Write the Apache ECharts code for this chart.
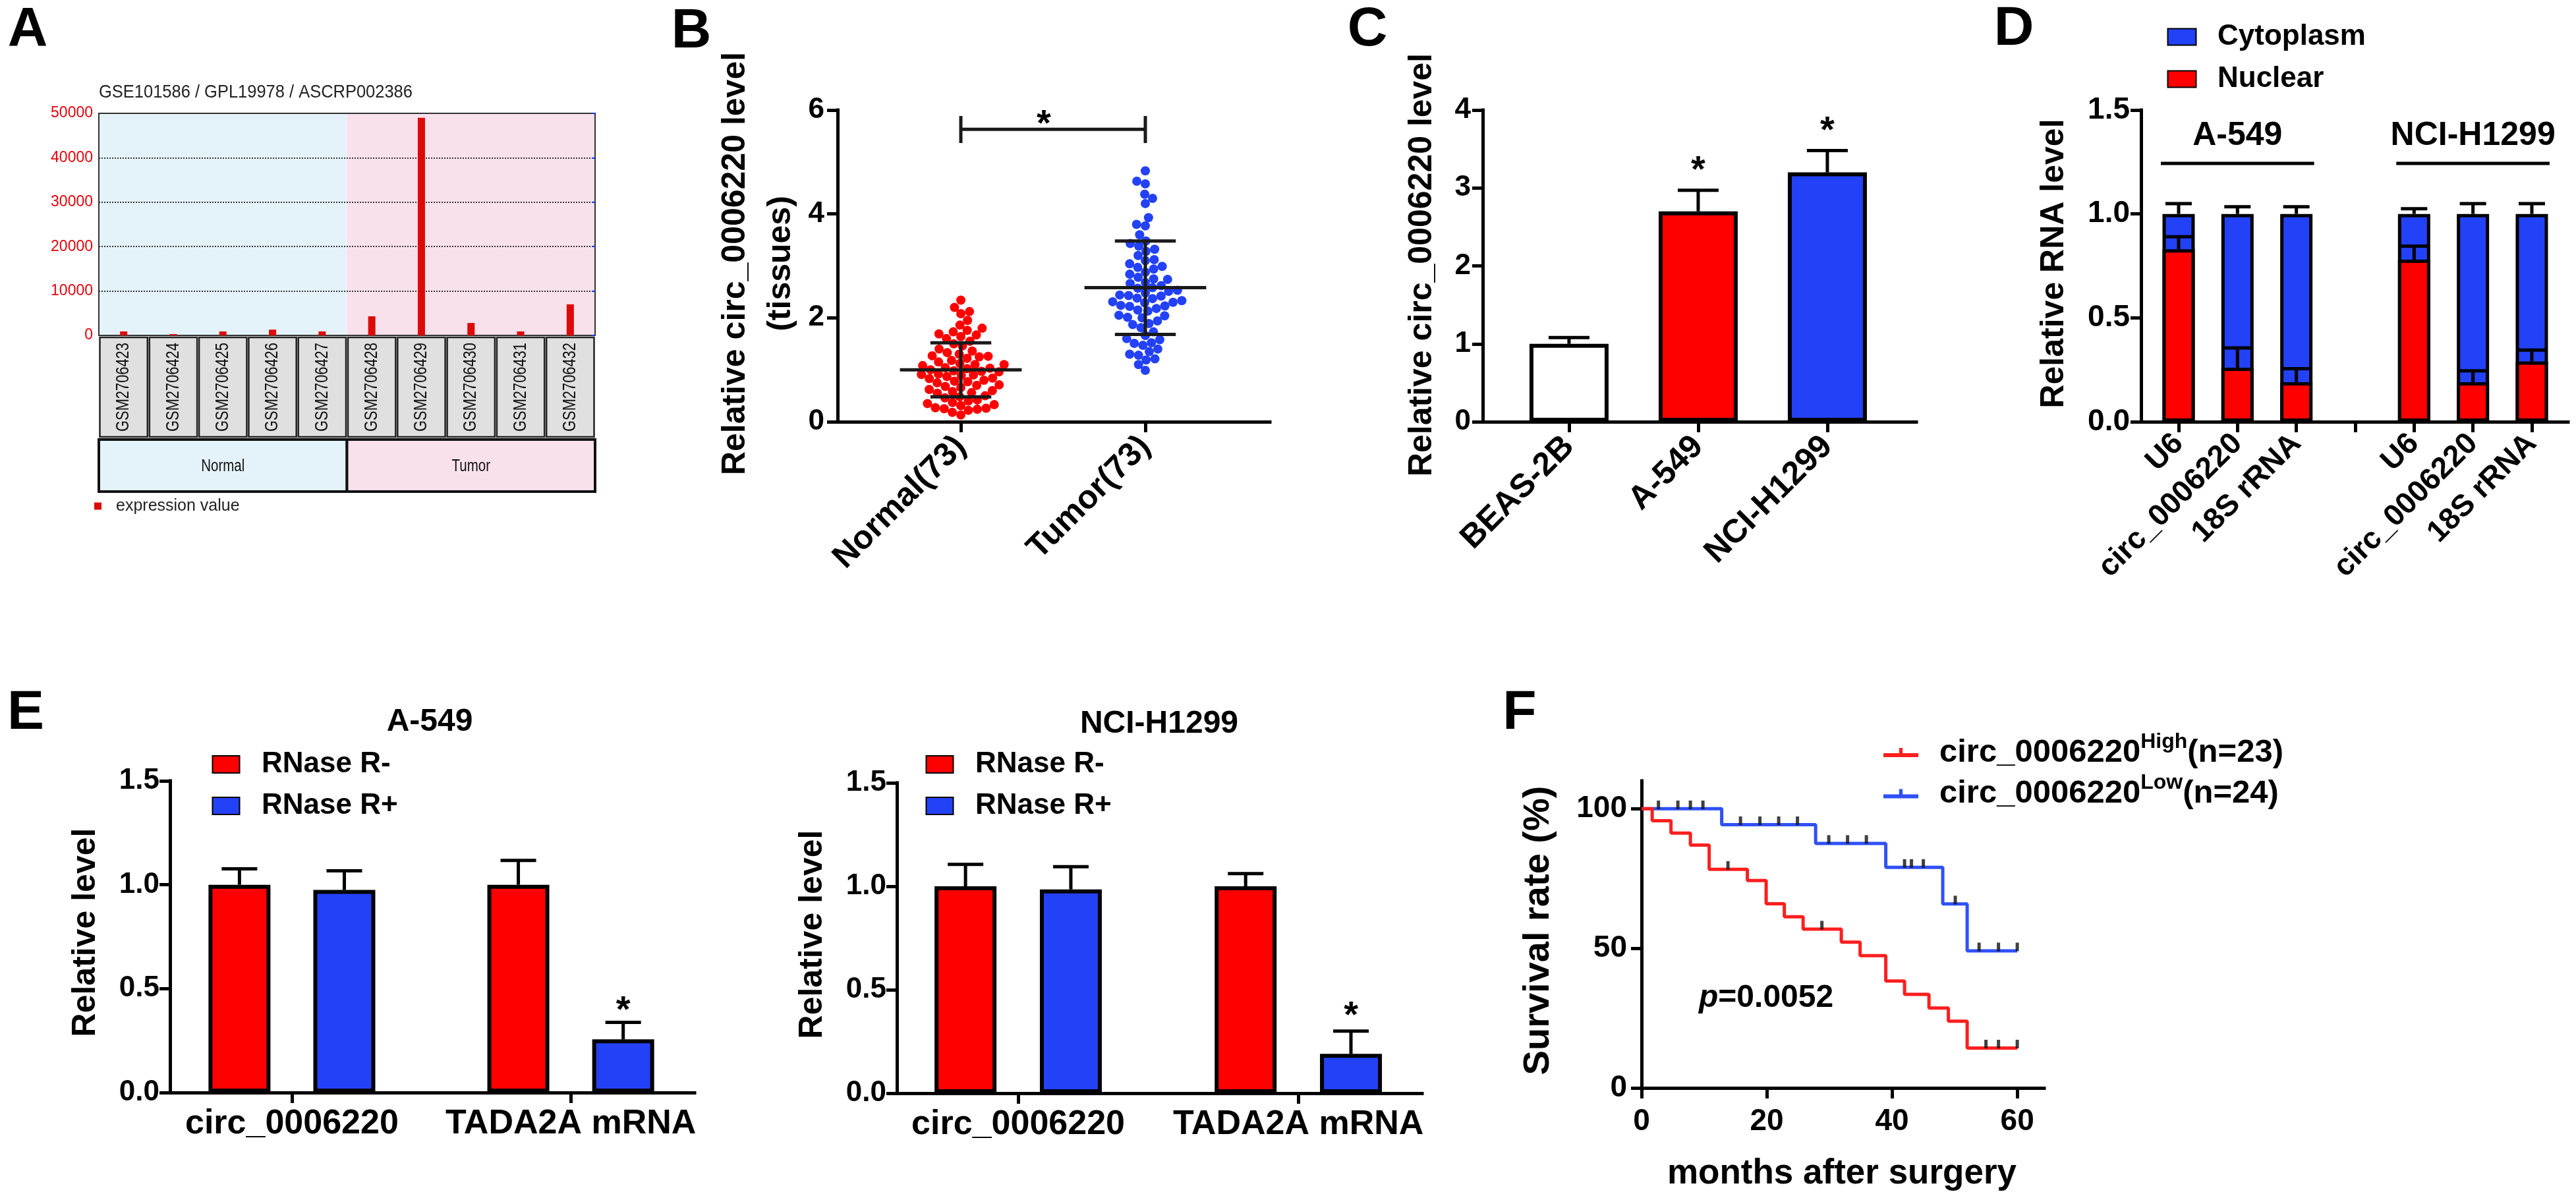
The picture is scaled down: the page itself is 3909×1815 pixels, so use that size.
<!DOCTYPE html>
<html>
<head>
<meta charset="utf-8">
<title>circ_0006220 figure</title>
<script src="https://cdn.jsdelivr.net/npm/echarts@6.0.0/dist/echarts.min.js"></script>
<style>
html,body{margin:0;padding:0;background:#fff;}
#chart{width:3909px;height:1815px;}
</style>
</head>
<body>
<div id="chart"></div>
<script>
// ================= DATA =================
// Panel A
const aTitle = 'GSE101586 / GPL19978 / ASCRP002386';
const gsmIds = ['GSM2706423','GSM2706424','GSM2706425','GSM2706426','GSM2706427','GSM2706428','GSM2706429','GSM2706430','GSM2706431','GSM2706432'];
const gsmExpression = [900, 300, 900, 1300, 900, 4300, 49000, 2800, 900, 7000];
const gsmGroups = ['Normal', 'Tumor'];
const gsmGroupSizes = [5, 5];
const aLegend = 'expression value';

// Panel B
const bGroups = ['Normal(73)', 'Tumor(73)'];
const bNormal = [2.34,2.20,2.12,2.08,1.95,1.86,1.80,1.76,1.73,1.69,
  1.67,1.64,1.60,1.55,1.50,1.46,1.40,1.36,1.33,1.30,
  1.27,1.26,1.25,1.22,1.18,1.15,1.12,1.10,1.10,1.08,
  1.04,1.03,1.02,1.00,0.98,0.97,0.96,0.92,0.91,0.90,
  0.89,0.87,0.84,0.83,0.80,0.78,0.77,0.75,0.71,0.70,
  0.68,0.66,0.62,0.60,0.58,0.56,0.55,0.50,0.48,0.46,
  0.42,0.40,0.37,0.35,0.33,0.31,0.27,0.26,0.25,0.24,
  0.22,0.18,0.13];
const bTumor = [4.83,4.63,4.58,4.38,4.30,4.20,3.93,3.80,3.77,3.60,
  3.48,3.43,3.38,3.32,3.28,3.20,3.12,3.10,3.04,2.99,
  2.97,2.94,2.88,2.84,2.78,2.75,2.74,2.66,2.62,2.58,
  2.57,2.53,2.51,2.48,2.44,2.43,2.42,2.38,2.37,2.33,
  2.31,2.30,2.29,2.24,2.23,2.22,2.18,2.15,2.13,2.05,
  2.04,2.01,2.00,1.94,1.89,1.87,1.81,1.73,1.66,1.60,
  1.58,1.52,1.51,1.47,1.40,1.30,1.28,1.21,1.19,1.10,
  0.99,1.35,2.68];
const bMean = [1.00, 2.58];
const bSD = [0.52, 0.90];
const bSig = '*';

// Panel C
const cCells = ['BEAS-2B', 'A-549', 'NCI-H1299'];
const cLevel = [1.00, 2.70, 3.20];
const cErr = [0.08, 0.27, 0.28];
const cSig = ['', '*', '*'];

// Panel D
const dLegend = ['Cytoplasm', 'Nuclear'];
const dGroups = ['A-549', 'NCI-H1299'];
const dGroupSpans = [[0, 2], [4, 6]];
const dCats = ['U6', 'circ_0006220', '18S rRNA', '', 'U6', 'circ_0006220', '18S rRNA'];
const dNuclear = [0.83, 0.26, 0.19, null, 0.78, 0.19, 0.29];
const dCytoplasm = [0.17, 0.74, 0.81, null, 0.22, 0.81, 0.71];
const dNuclearErr = [0.06, 0.095, 0.065, null, 0.065, 0.055, 0.055];
const dTotalErr = [0.05, 0.035, 0.035, null, 0.025, 0.05, 0.05];

// Panel E
const eLegend = ['RNase R-', 'RNase R+'];
const eCats = ['circ_0006220', 'TADA2A mRNA'];
const eA549Minus = [1.00, 1.00], eA549MinusErr = [0.077, 0.117];
const eA549Plus = [0.975, 0.256], eA549PlusErr = [0.092, 0.082];
const eA549Sig = ['', '*'];
const eH1299Minus = [1.00, 1.00], eH1299MinusErr = [0.106, 0.061];
const eH1299Plus = [0.985, 0.19], eH1299PlusErr = [0.11, 0.11];
const eH1299Sig = ['', '*'];

// Panel F
const fMarker = 'circ_0006220';
const fLabels = ['High', 'Low'];
const fN = [23, 24];
const fHighSteps = [[0,100],[1.7,95.7],[4.7,91.3],[7.8,87.0],[10.8,78.3],[16.9,74.3],[19.9,66.0],[22.8,61.3],[25.8,56.9],[31.9,52.2],[34.9,47.4],[39.0,38.3],[42.0,33.5],[45.9,28.6],[49.0,23.9],[52.0,14.3],[60.0,14.3]];
const fHighCensor = [13.8, 28.8, 55.0, 57.0, 60.0];
const fLowSteps = [[0,100],[12.8,94.3],[27.8,87.6],[39.0,79.0],[48.1,65.9],[52.0,49.1],[60.0,49.1]];
const fLowCensor = [2.7,5.8,7.8,9.8,15.8,18.9,21.9,24.9,29.9,32.9,35.9,42.0,43.1,45.0,50.1,53.9,57.0,60.0];
const fXTicks = [0, 20, 40, 60];
const fYTicks = [0, 50, 100];
const fP = '=0.0052';

// ================= STYLE =================
const BOLD = "'Liberation Sans', Arial, Helvetica, sans-serif";
const RED = '#ff0000', BLUE = '#2341f6';
const F_RED = '#ff1e1e', F_BLUE = '#2f50f7';

// ================= HELPERS =================
function T(text, x, y, size, o) {
  o = o || {};
  const st = {text, fontSize: size, fontWeight: o.weight || 'bold', fontFamily: o.family || BOLD,
    fontStyle: o.fstyle || 'normal', fill: o.color || '#000',
    align: o.align || 'center', textAlign: o.align || 'center',
    verticalAlign: 'middle', textVerticalAlign: 'middle'};
  if (o.rich) st.rich = o.rich;
  return {type: 'text', x, y, rotation: o.rot || 0, scaleX: o.sx || 1, z: 50, silent: true, style: st};
}
function catAxis(gi, names, min, max, fs, rotate, margin, lw) {
  const idx = names.map((_, i) => i);
  return {
    type: 'value', gridIndex: gi, min, max,
    splitLine: {show: false},
    axisLine: {show: true, onZero: false, lineStyle: {color: '#000', width: lw, cap: 'square'}},
    axisTick: {show: true, customValues: idx, length: 16, lineStyle: {color: '#000', width: lw}},
    axisLabel: {show: true, customValues: idx, formatter: v => names[Math.round(v)] || '', rotate, margin,
      fontSize: fs, fontWeight: 'bold', fontFamily: BOLD, color: '#000'}
  };
}
function valAxis(gi, min, max, interval, fs, margin, lw, fmt) {
  const ax = {
    type: 'value', gridIndex: gi, min, max, interval,
    splitLine: {show: false},
    axisLine: {show: true, onZero: false, lineStyle: {color: '#000', width: lw, cap: 'square'}},
    axisTick: {show: true, length: 16, lineStyle: {color: '#000', width: lw}},
    axisLabel: {margin, fontSize: fs, fontWeight: 'bold', fontFamily: BOLD, color: '#000'}
  };
  if (fmt) ax.axisLabel.formatter = fmt;
  return ax;
}
function beeswarm(values, pxPerY, diam) {
  const order = values.map((v, i) => i).sort((a, b) => values[a] - values[b]);
  const placed = [], off = new Array(values.length);
  let flip = false;
  for (const i of order) {
    const y = values[i] * pxPerY;
    const near = placed.filter(p => Math.abs(p.y - y) < diam);
    const cands = [0];
    near.forEach(p => { const dx = Math.sqrt(diam * diam - (p.y - y) ** 2); cands.push(p.x + dx + 0.01, p.x - dx - 0.01); });
    cands.sort((a, b) => (Math.abs(a) - Math.abs(b)) || (flip ? a - b : b - a));
    let x = 0;
    for (const c of cands) {
      if (near.every(p => (p.x - c) ** 2 + (p.y - y) ** 2 >= diam * diam - 0.5)) { x = c; break; }
    }
    placed.push({x, y}); off[i] = x; flip = !flip;
  }
  return off;
}
function errSeries(xi, items, sigs, capPx, lw, starSize, starGap) {
  return {
    type: 'custom', xAxisIndex: xi, yAxisIndex: xi, z: 6, silent: true, clip: false,
    data: items,
    renderItem(params, api) {
      const x = api.value(0), top = api.value(1), err = api.value(2);
      const p0 = api.coord([x, top]), p1 = api.coord([x, top + err]);
      const ch = [
        {type: 'line', shape: {x1: p0[0], y1: p0[1], x2: p1[0], y2: p1[1]}, style: {stroke: '#000', lineWidth: lw}},
        {type: 'line', shape: {x1: p1[0] - capPx / 2, y1: p1[1], x2: p1[0] + capPx / 2, y2: p1[1]}, style: {stroke: '#000', lineWidth: lw}}
      ];
      const s = sigs ? sigs[params.dataIndex] : '';
      if (s) ch.push({type: 'text', style: {text: s, x: p1[0], y: p1[1] - starGap, fontSize: starSize, fontWeight: 'bold',
        fontFamily: BOLD, fill: '#000', align: 'center', textAlign: 'center', verticalAlign: 'middle', textVerticalAlign: 'middle'}});
      return {type: 'group', children: ch};
    }
  };
}
function survAt(steps, t) { let s = steps[0][1]; steps.forEach(([tt, v]) => { if (tt <= t) s = v; }); return s; }

// ================= SERIES =================
const series = [];

// ---- A ----
const gsmStarts = gsmGroupSizes.map((s, k) => gsmGroupSizes.slice(0, k).reduce((a, b) => a + b, 0));
const aBg = ['#e4f3f9', '#f9e1eb'];
series.push({
  type: 'custom', xAxisIndex: 0, yAxisIndex: 0, z: -1, silent: true,
  data: gsmGroups.map((g, k) => [k, 0]),
  renderItem(params, api) {
    const k = params.dataIndex;
    const l = api.coord([gsmStarts[k] - 0.5, 50000]), r = api.coord([gsmStarts[k] + gsmGroupSizes[k] - 0.5, 0]);
    return {type: 'rect', shape: {x: l[0], y: l[1], width: r[0] - l[0], height: r[1] - l[1]}, style: {fill: aBg[k]}};
  }
});
series.push({
  type: 'bar', name: aLegend, xAxisIndex: 0, yAxisIndex: 0, barWidth: 11,
  data: gsmExpression.map((v, i) => [i, v]), itemStyle: {color: '#dd0a0a'}
});
series.push({
  type: 'custom', xAxisIndex: 0, yAxisIndex: 0, z: 3, silent: true, clip: false,
  data: gsmIds.map((id, i) => [i, 0]),
  renderItem(params, api) {
    const i = params.dataIndex;
    const l = api.coord([i - 0.5, 0]), r = api.coord([i + 0.5, 0]);
    const y0 = l[1] + 3, h = 151;
    return {type: 'group', children: [
      {type: 'rect', shape: {x: l[0] + 1.5, y: y0, width: r[0] - l[0] - 3, height: h}, style: {fill: '#dfe0df', stroke: '#222', lineWidth: 2.5}},
      {type: 'text', x: (l[0] + r[0]) / 2, y: y0 + h / 2, rotation: Math.PI / 2, scaleX: 0.78,
        style: {text: gsmIds[i], fontSize: 28, fontFamily: BOLD, fill: '#111', align: 'center', textAlign: 'center', verticalAlign: 'middle', textVerticalAlign: 'middle'}}
    ]};
  }
});
series.push({
  type: 'custom', xAxisIndex: 0, yAxisIndex: 0, z: 3, silent: true, clip: false,
  data: gsmGroups.map((g, k) => [k, 0]),
  renderItem(params, api) {
    const k = params.dataIndex;
    const l = api.coord([gsmStarts[k] - 0.5, 0]), r = api.coord([gsmStarts[k] + gsmGroupSizes[k] - 0.5, 0]);
    const y0 = l[1] + 158, h = 79;
    return {type: 'group', children: [
      {type: 'rect', shape: {x: l[0], y: y0, width: r[0] - l[0], height: h}, style: {fill: aBg[k], stroke: '#111', lineWidth: 4}},
      {type: 'text', x: (l[0] + r[0]) / 2, y: y0 + h / 2 + 2, scaleX: 0.82,
        style: {text: gsmGroups[k], fontSize: 25, fontFamily: BOLD, fill: '#111',
        align: 'center', textAlign: 'center', verticalAlign: 'middle', textVerticalAlign: 'middle'}}
    ]};
  }
});

// ---- B ----
const bPxY = 473 / 6, bPxX = 280;
const bOffN = beeswarm(bNormal, bPxY, 13.5);
const bOffT = beeswarm(bTumor, bPxY, 13.5);
series.push({type: 'scatter', name: bGroups[0], xAxisIndex: 1, yAxisIndex: 1, symbolSize: 14, z: 3,
  data: bNormal.map((v, i) => [0 + bOffN[i] / bPxX, v]), itemStyle: {color: RED, opacity: 1}});
series.push({type: 'scatter', name: bGroups[1], xAxisIndex: 1, yAxisIndex: 1, symbolSize: 14, z: 3,
  data: bTumor.map((v, i) => [1 + bOffT[i] / bPxX, v]), itemStyle: {color: BLUE, opacity: 1}});
series.push({
  type: 'custom', xAxisIndex: 1, yAxisIndex: 1, z: 10, silent: true,
  data: bMean.map((m, i) => [i, m, bSD[i]]),
  renderItem(params, api) {
    const i = api.value(0), m = api.value(1), s = api.value(2);
    const a = api.coord([i - 0.33, m]), b = api.coord([i + 0.33, m]);
    const hi1 = api.coord([i - 0.165, m + s]), hi2 = api.coord([i + 0.165, m + s]);
    const lo1 = api.coord([i - 0.165, m - s]), lo2 = api.coord([i + 0.165, m - s]);
    const c = api.coord([i, m]);
    const st = {stroke: '#1a1a1a', lineWidth: 5};
    return {type: 'group', children: [
      {type: 'line', shape: {x1: a[0], y1: a[1], x2: b[0], y2: b[1]}, style: st},
      {type: 'line', shape: {x1: hi1[0], y1: hi1[1], x2: hi2[0], y2: hi2[1]}, style: st},
      {type: 'line', shape: {x1: lo1[0], y1: lo1[1], x2: lo2[0], y2: lo2[1]}, style: st},
      {type: 'line', shape: {x1: c[0], y1: hi1[1], x2: c[0], y2: lo1[1]}, style: st}
    ]};
  }
});
series.push({
  type: 'custom', xAxisIndex: 1, yAxisIndex: 1, z: 10, silent: true, clip: false,
  data: [[0, 1]],
  renderItem(params, api) {
    const x0 = api.value(0), x1 = api.value(1);
    const a = api.coord([x0, 5.63]), b = api.coord([x1, 5.63]);
    const t0 = api.coord([x0, 5.885])[1], t1 = api.coord([x0, 5.365])[1];
    const st = {stroke: '#1a1a1a', lineWidth: 5};
    return {type: 'group', children: [
      {type: 'line', shape: {x1: a[0], y1: a[1], x2: b[0], y2: b[1]}, style: st},
      {type: 'line', shape: {x1: a[0], y1: t0, x2: a[0], y2: t1}, style: st},
      {type: 'line', shape: {x1: b[0], y1: t0, x2: b[0], y2: t1}, style: st},
      {type: 'text', style: {text: bSig, x: (a[0] + b[0]) / 2 - 14, y: a[1] - 7, fontSize: 56, fontWeight: 'bold', fontFamily: BOLD, fill: '#000',
        align: 'center', textAlign: 'center', verticalAlign: 'middle', textVerticalAlign: 'middle'}}
    ]};
  }
});

// ---- C ----
const cColors = ['#ffffff', RED, BLUE];
series.push({
  type: 'bar', xAxisIndex: 2, yAxisIndex: 2, barWidth: 120, z: 3,
  data: cLevel.map((v, i) => ({value: [i, v], itemStyle: {color: cColors[i], borderColor: '#000', borderWidth: 6}}))
});
series.push(errSeries(2, cLevel.map((v, i) => [i, v, cErr[i]]), cSig, 62, 5, 56, 29));

// ---- D ---- (cytoplasm stacked on nuclear: top of blue = nuclear + cytoplasm)
const dIdx = dCats.map((c, i) => i).filter(i => dNuclear[i] != null);
series.push({type: 'bar', name: 'Cytoplasm', xAxisIndex: 3, yAxisIndex: 3, barWidth: 49, barGap: '-100%', z: 3,
  data: dIdx.map(i => [i, +(dNuclear[i] + dCytoplasm[i]).toFixed(3)]), itemStyle: {color: BLUE, borderColor: '#000', borderWidth: 5}});
series.push({type: 'bar', name: 'Nuclear', xAxisIndex: 3, yAxisIndex: 3, barWidth: 49, barGap: '-100%', z: 4,
  data: dIdx.map(i => [i, dNuclear[i]]), itemStyle: {color: RED, borderColor: '#000', borderWidth: 5}});
series.push(errSeries(3, dIdx.map(i => [i, dNuclear[i], dNuclearErr[i]])
  .concat(dIdx.map(i => [i, +(dNuclear[i] + dCytoplasm[i]).toFixed(3), dTotalErr[i]])), null, 40, 5, 0, 0));
series.push({
  type: 'custom', xAxisIndex: 3, yAxisIndex: 3, z: 6, silent: true, clip: false,
  data: dGroups.map((g, k) => [k, 0]),
  renderItem(params, api) {
    const k = params.dataIndex, [a, b] = dGroupSpans[k];
    const p1 = api.coord([a, 1.243]), p2 = api.coord([b, 1.243]);
    const pt = api.coord([(a + b) / 2, 1.375]);
    return {type: 'group', children: [
      {type: 'line', shape: {x1: p1[0] - 27, y1: p1[1], x2: p2[0] + 27, y2: p2[1]}, style: {stroke: '#000', lineWidth: 5}},
      {type: 'text', style: {text: dGroups[k], x: pt[0], y: pt[1], fontSize: 50, fontWeight: 'bold', fontFamily: BOLD, fill: '#000',
        align: 'center', textAlign: 'center', verticalAlign: 'middle', textVerticalAlign: 'middle'}}
    ]};
  }
});

// ---- E ----
const eOff = 0.188;
function eSeries(xi, minus, minusErr, plus, plusErr, sig, starGap) {
  series.push({type: 'bar', name: eLegend[0], xAxisIndex: xi, yAxisIndex: xi, barWidth: 94, barGap: '-100%', z: 3,
    data: minus.map((v, i) => [i - eOff, v]), itemStyle: {color: RED, borderColor: '#000', borderWidth: 6}});
  series.push({type: 'bar', name: eLegend[1], xAxisIndex: xi, yAxisIndex: xi, barWidth: 94, barGap: '-100%', z: 3,
    data: plus.map((v, i) => [i + eOff, v]), itemStyle: {color: BLUE, borderColor: '#000', borderWidth: 6}});
  series.push(errSeries(xi, minus.map((v, i) => [i - eOff, v, minusErr[i]]), null, 54, 5, 0, 0));
  series.push(errSeries(xi, plus.map((v, i) => [i + eOff, v, plusErr[i]]), sig, 54, 5, 56, starGap));
}
eSeries(4, eA549Minus, eA549MinusErr, eA549Plus, eA549PlusErr, eA549Sig, 17);
eSeries(5, eH1299Minus, eH1299MinusErr, eH1299Plus, eH1299PlusErr, eH1299Sig, 22);

// ---- F ----
series.push({type: 'line', name: fLabels[1], xAxisIndex: 6, yAxisIndex: 6, step: 'end', symbol: 'none', z: 3,
  data: fLowSteps, lineStyle: {color: F_BLUE, width: 5}, itemStyle: {color: F_BLUE}});
series.push({type: 'line', name: fLabels[0], xAxisIndex: 6, yAxisIndex: 6, step: 'end', symbol: 'none', z: 4,
  data: fHighSteps, lineStyle: {color: F_RED, width: 5}, itemStyle: {color: F_RED}});
series.push({type: 'scatter', name: 'censorLow', xAxisIndex: 6, yAxisIndex: 6, symbol: 'rect', symbolSize: [5, 13], symbolOffset: [0, -6], z: 5,
  data: fLowCensor.map(t => [t, survAt(fLowSteps, t)]), itemStyle: {color: '#111'}});
series.push({type: 'scatter', name: 'censorHigh', xAxisIndex: 6, yAxisIndex: 6, symbol: 'rect', symbolSize: [5, 13], symbolOffset: [0, -6], z: 5,
  data: fHighCensor.map(t => [t, survAt(fHighSteps, t)]), itemStyle: {color: '#111'}});

// ================= AXES =================
const grids = [
  {left: 150, top: 172, width: 753, height: 337, show: true, borderColor: '#333', borderWidth: 2, backgroundColor: 'transparent'},
  {left: 1271, top: 167, width: 656, height: 473},
  {left: 2250, top: 167, width: 658, height: 473},
  {left: 3249, top: 167, width: 648, height: 473},
  {left: 258, top: 1185, width: 796, height: 473},
  {left: 1361, top: 1188, width: 797, height: 471},
  {left: 2491, top: 1185, width: 611, height: 466}
].map(g => Object.assign({containLabel: false, outerBoundsMode: 'none'}, g));

const xAxes = [
  {type: 'value', gridIndex: 0, min: -0.5, max: 9.5, show: false},
  catAxis(1, bGroups, -0.668, 1.675, 50, 45, 30, 5),
  catAxis(2, cCells, -0.668, 2.689, 50, 45, 30, 5),
  catAxis(3, dCats, -0.638, 6.616, 46, 45, 26, 5),
  catAxis(4, eCats, -0.437, 1.444, 52, 0, 22, 5),
  catAxis(5, eCats, -0.433, 1.442, 52, 0, 22, 5),
  {type: 'value', gridIndex: 6, min: 0, max: 64.3,
    splitLine: {show: false},
    axisLine: {show: true, onZero: false, lineStyle: {color: '#000', width: 5, cap: 'square'}},
    axisTick: {show: true, customValues: fXTicks, length: 16, lineStyle: {color: '#000', width: 5}},
    axisLabel: {customValues: fXTicks, margin: 28, fontSize: 46, fontWeight: 'bold', fontFamily: BOLD, color: '#000'}}
];
const fmt1 = v => v.toFixed(1);
const yAxes = [
  {type: 'value', gridIndex: 0, min: 0, max: 50000, interval: 10000,
    axisLine: {show: false}, axisTick: {show: false},
    splitLine: {show: true, lineStyle: {color: '#333', width: 2, type: 'dotted'}},
    axisLabel: {margin: 9, fontSize: 23, fontFamily: BOLD, color: '#e8000b', formatter: v => String(v)}},
  valAxis(1, 0, 6, 2, 44, 20, 5),
  valAxis(2, 0, 4, 1, 44, 18, 5),
  valAxis(3, 0, 1.5, 0.5, 46, 17, 5, fmt1),
  valAxis(4, 0, 1.5, 0.5, 44, 16, 5, fmt1),
  valAxis(5, 0, 1.5, 0.5, 44, 16, 5, fmt1),
  {type: 'value', gridIndex: 6, min: 0, max: 110,
    splitLine: {show: false},
    axisLine: {show: true, onZero: false, lineStyle: {color: '#000', width: 5, cap: 'square'}},
    axisTick: {show: true, customValues: fYTicks, length: 16, lineStyle: {color: '#000', width: 5}},
    axisLabel: {customValues: fYTicks, margin: 22, fontSize: 46, fontWeight: 'bold', fontFamily: BOLD, color: '#000'}},
  {type: 'value', gridIndex: 0, position: 'right', min: 0, max: 50000, interval: 10000,
    axisLine: {show: false}, splitLine: {show: false}, axisLabel: {show: false},
    axisTick: {show: true, inside: true, length: 5, lineStyle: {color: '#1030ff', width: 2}}}
];

// ================= LEGENDS =================
const legends = [
  {data: [aLegend], left: 143, top: 755, padding: 0, icon: 'rect', itemWidth: 11, itemHeight: 11, selectedMode: false,
    itemStyle: {borderWidth: 0},
    textStyle: {fontSize: 25, fontFamily: BOLD, color: '#222', lineHeight: 26, padding: [0, 0, 0, 17]}},
  {data: dLegend, left: 3288.5, top: 34, orient: 'vertical', padding: 0, icon: 'rect', itemWidth: 43, itemHeight: 25, itemGap: 20, selectedMode: false,
    textStyle: {fontSize: 44, fontWeight: 'bold', fontFamily: BOLD, color: '#000', lineHeight: 44, padding: [0, 0, 0, 27.5]}},
  {data: eLegend, left: 321.5, top: 1138, orient: 'vertical', padding: 0, icon: 'rect', itemWidth: 41, itemHeight: 26, itemGap: 19, selectedMode: false,
    textStyle: {fontSize: 44, fontWeight: 'bold', fontFamily: BOLD, color: '#000', lineHeight: 44, padding: [0, 0, 0, 28.5]}},
  {data: eLegend, left: 1404.5, top: 1138, orient: 'vertical', padding: 0, icon: 'rect', itemWidth: 41, itemHeight: 26, itemGap: 19, selectedMode: false,
    textStyle: {fontSize: 44, fontWeight: 'bold', fontFamily: BOLD, color: '#000', lineHeight: 44, padding: [0, 0, 0, 28.5]}},
  {data: fLabels, left: 2858, top: 1110, orient: 'vertical', padding: 0, itemWidth: 53, itemHeight: 16, itemGap: 6, selectedMode: false,
    icon: 'path://M0,9H60V16H0Z M27,0H33V16H27Z',
    formatter: n => { const k = fLabels.indexOf(n); return '{a|' + fMarker + '}{s|' + n + '}{a|(n=' + fN[k] + ')}'; },
    textStyle: {fontSize: 49, fontWeight: 'bold', fontFamily: BOLD, color: '#000', padding: [0, 0, 0, 27],
      rich: {a: {fontSize: 49, fontWeight: 'bold', fontFamily: BOLD, color: '#000', lineHeight: 64},
             s: {fontSize: 32, fontWeight: 'bold', fontFamily: BOLD, color: '#000', lineHeight: 6, verticalAlign: 'top'}}}}
];

// ================= TEXT =================
const R90 = Math.PI / 2;
const graphics = [
  T('A', 42, 47, 84), T('B', 1049, 49, 84), T('C', 2075, 46, 84), T('D', 3056, 45, 84), T('E', 39, 1083, 84), T('F', 2306, 1083, 84),
  T(aTitle, 150, 140, 28, {weight: 'normal', color: '#222', align: 'left', sx: 0.91}),
  T('Relative circ_0006220 level', 1116, 400, 50, {rot: R90}),
  T('(tissues)', 1185, 400, 50, {rot: R90}),
  T('Relative circ_0006220 level', 2158, 402, 50, {rot: R90}),
  T('Relative RNA level', 3117, 400, 50, {rot: R90}),
  T('Relative level', 130, 1415, 50, {rot: R90}),
  T('Relative level', 1233, 1418, 50, {rot: R90}),
  T('Survival rate (%)', 2335, 1412, 56, {rot: R90}),
  T('months after surgery', 2795, 1781, 53),
  T('A-549', 652, 1096, 48),
  T('NCI-H1299', 1759, 1099, 48),
  T('{i|p}' + fP, 2578, 1515, 48, {align: 'left', rich: {i: {fontSize: 48, fontWeight: 'bold', fontStyle: 'italic', fontFamily: BOLD, fill: '#000', color: '#000'}}})
];

const option = {
  animation: false,
  backgroundColor: '#ffffff',
  textStyle: {fontFamily: BOLD},
  grid: grids,
  xAxis: xAxes,
  yAxis: yAxes,
  legend: legends,
  series,
  graphic: {elements: graphics}
};
const chart = echarts.init(document.getElementById('chart'), null, {renderer: 'canvas', width: 3909, height: 1815});
chart.setOption(option);
</script>
</body>
</html>
